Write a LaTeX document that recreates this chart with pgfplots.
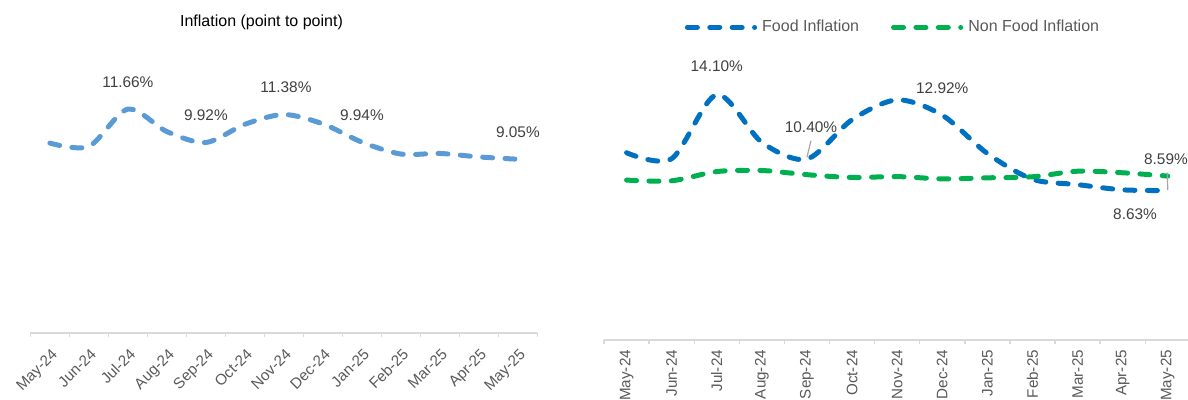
\documentclass[border=0pt]{standalone}
\usepackage{fontspec}
\setmainfont{Liberation Sans}
\usepackage{pgfplots}
\usepackage{pgfplotstable}
\pgfplotsset{compat=1.18}
\definecolor{lblue}{HTML}{5B9BD5}
\definecolor{fblue}{HTML}{0070C0}
\definecolor{nfgreen}{HTML}{00B050}
\definecolor{axgray}{HTML}{D9D9D9}
\definecolor{txt}{HTML}{595959}
\definecolor{lbltxt}{HTML}{404040}
\definecolor{lead}{HTML}{A6A6A6}

\pgfplotstableread{
x overall food nonfood
0  9.89 10.76 9.19
1  9.72 10.42 9.15
2 11.66 14.10 9.68
3 10.49 11.36 9.74
4  9.92 10.40 9.50
5 10.87 12.66 9.34
6 11.38 13.80 9.39
7 10.89 12.92 9.26
8  9.94 10.72 9.32
9  9.32  9.24 9.38
10 9.35  8.93 9.70
11 9.17  8.63 9.61
12 9.05  8.59 9.42
}\datatable

\tikzset{
  dline/.style={line width=2.5pt, dash pattern=on 5pt off 6.2pt, line cap=round, smooth},
  lbl/.style={font=\fontsize{7.7}{9}\selectfont, text=lbltxt, inner sep=0pt},
}
\pgfplotsset{
  common/.style={
    scale only axis, clip=false,
    xmin=-0.5, xmax=12.5, ymin=0, ymax=16,
    axis x line*=bottom, axis y line=none, ytick=\empty,
    xtick={0,...,12},
    xticklabels={May-24,Jun-24,Jul-24,Aug-24,Sep-24,Oct-24,Nov-24,Dec-24,Jan-25,Feb-25,Mar-25,Apr-25,May-25},
    minor xtick={-0.5,0.5,...,12.5},
    major tick length=0pt, minor tick length=2pt, tick align=outside,
    x axis line style={draw=axgray, line width=0.7pt},
    tick style={draw=axgray, line width=0.7pt},
    ticklabel style={font=\fontsize{7.6}{9}\selectfont, text=txt},
  },
}

\begin{document}
\begin{tikzpicture}
\useasboundingbox (0,0) rectangle (594pt,200pt);
% Left chart
\begin{axis}[common, at={(15.2pt,33.5pt)}, anchor=south west,
  width=253.5pt, height=153.6pt,
  xticklabel style={rotate=45, anchor=north east, yshift=-2pt, xshift=-1.5pt}]
\addplot[lblue, dline] table[x=x,y=overall]{\datatable};
\node[lbl, yshift=13.5pt] at (axis cs:2,11.66) {11.66\%};
\node[lbl, yshift=13.5pt] at (axis cs:4,9.92) {9.92\%};
\node[lbl, yshift=13.5pt, xshift=1pt] at (axis cs:6,11.38) {11.38\%};
\node[lbl, yshift=13.5pt] at (axis cs:8,9.94) {9.94\%};
\node[lbl, yshift=13.5pt] at (axis cs:12,9.05) {9.05\%};
\end{axis}
\node[font=\fontsize{8}{9.6}\selectfont, text=black] at (130.75pt,189pt) {Inflation (point to point)};
% Right chart
\begin{axis}[common, at={(302pt,30pt)}, anchor=south west,
  width=293.15pt, height=139.2pt,
  xticklabel style={rotate=90, anchor=east, xshift=-1.5pt},
  legend style={at={(axis description cs:0.133,1.123)}, anchor=west, draw=none, fill=none,
    legend columns=2, font=\fontsize{8}{9.6}\selectfont, text=txt, inner xsep=0pt,
    nodes={inner xsep=1.2pt},
    /tikz/every even column/.append style={column sep=13.5pt}},
  legend image code/.code={\path (0pt,0pt) (36.2pt,0pt);\draw[#1] (1.25pt,0pt) -- (34.85pt,0pt);}]
\addplot[fblue, dline] table[x=x,y=food]{\datatable};
\addlegendentry{Food Inflation}
\addplot[nfgreen, dline] table[x=x,y=nonfood]{\datatable};
\addlegendentry{Non Food Inflation}
\node[lbl, yshift=14pt] at (axis cs:2,14.10) {14.10\%};
\node[lbl, yshift=13.5pt] at (axis cs:7,12.92) {12.92\%};
\node[lbl, xshift=2pt, yshift=16.15pt] at (axis cs:4,10.40) {10.40\%};
\draw[lead, line width=0.6pt] ([shift={(2pt,9.15pt)}]axis cs:4,10.40) -- ([shift={(0pt,0.85pt)}]axis cs:4,10.40);
\node[lbl, xshift=-0.9pt, yshift=15.75pt] at (axis cs:12,8.59) {8.59\%};
\draw[lead, line width=0.6pt] ([shift={(-0.2pt,8.9pt)}]axis cs:12,8.59) -- ([shift={(0pt,0.25pt)}]axis cs:12,8.59);
\node[lbl, xshift=6.2pt, yshift=-12.1pt] at (axis cs:11,8.63) {8.63\%};
\end{axis}
\end{tikzpicture}
\end{document}
